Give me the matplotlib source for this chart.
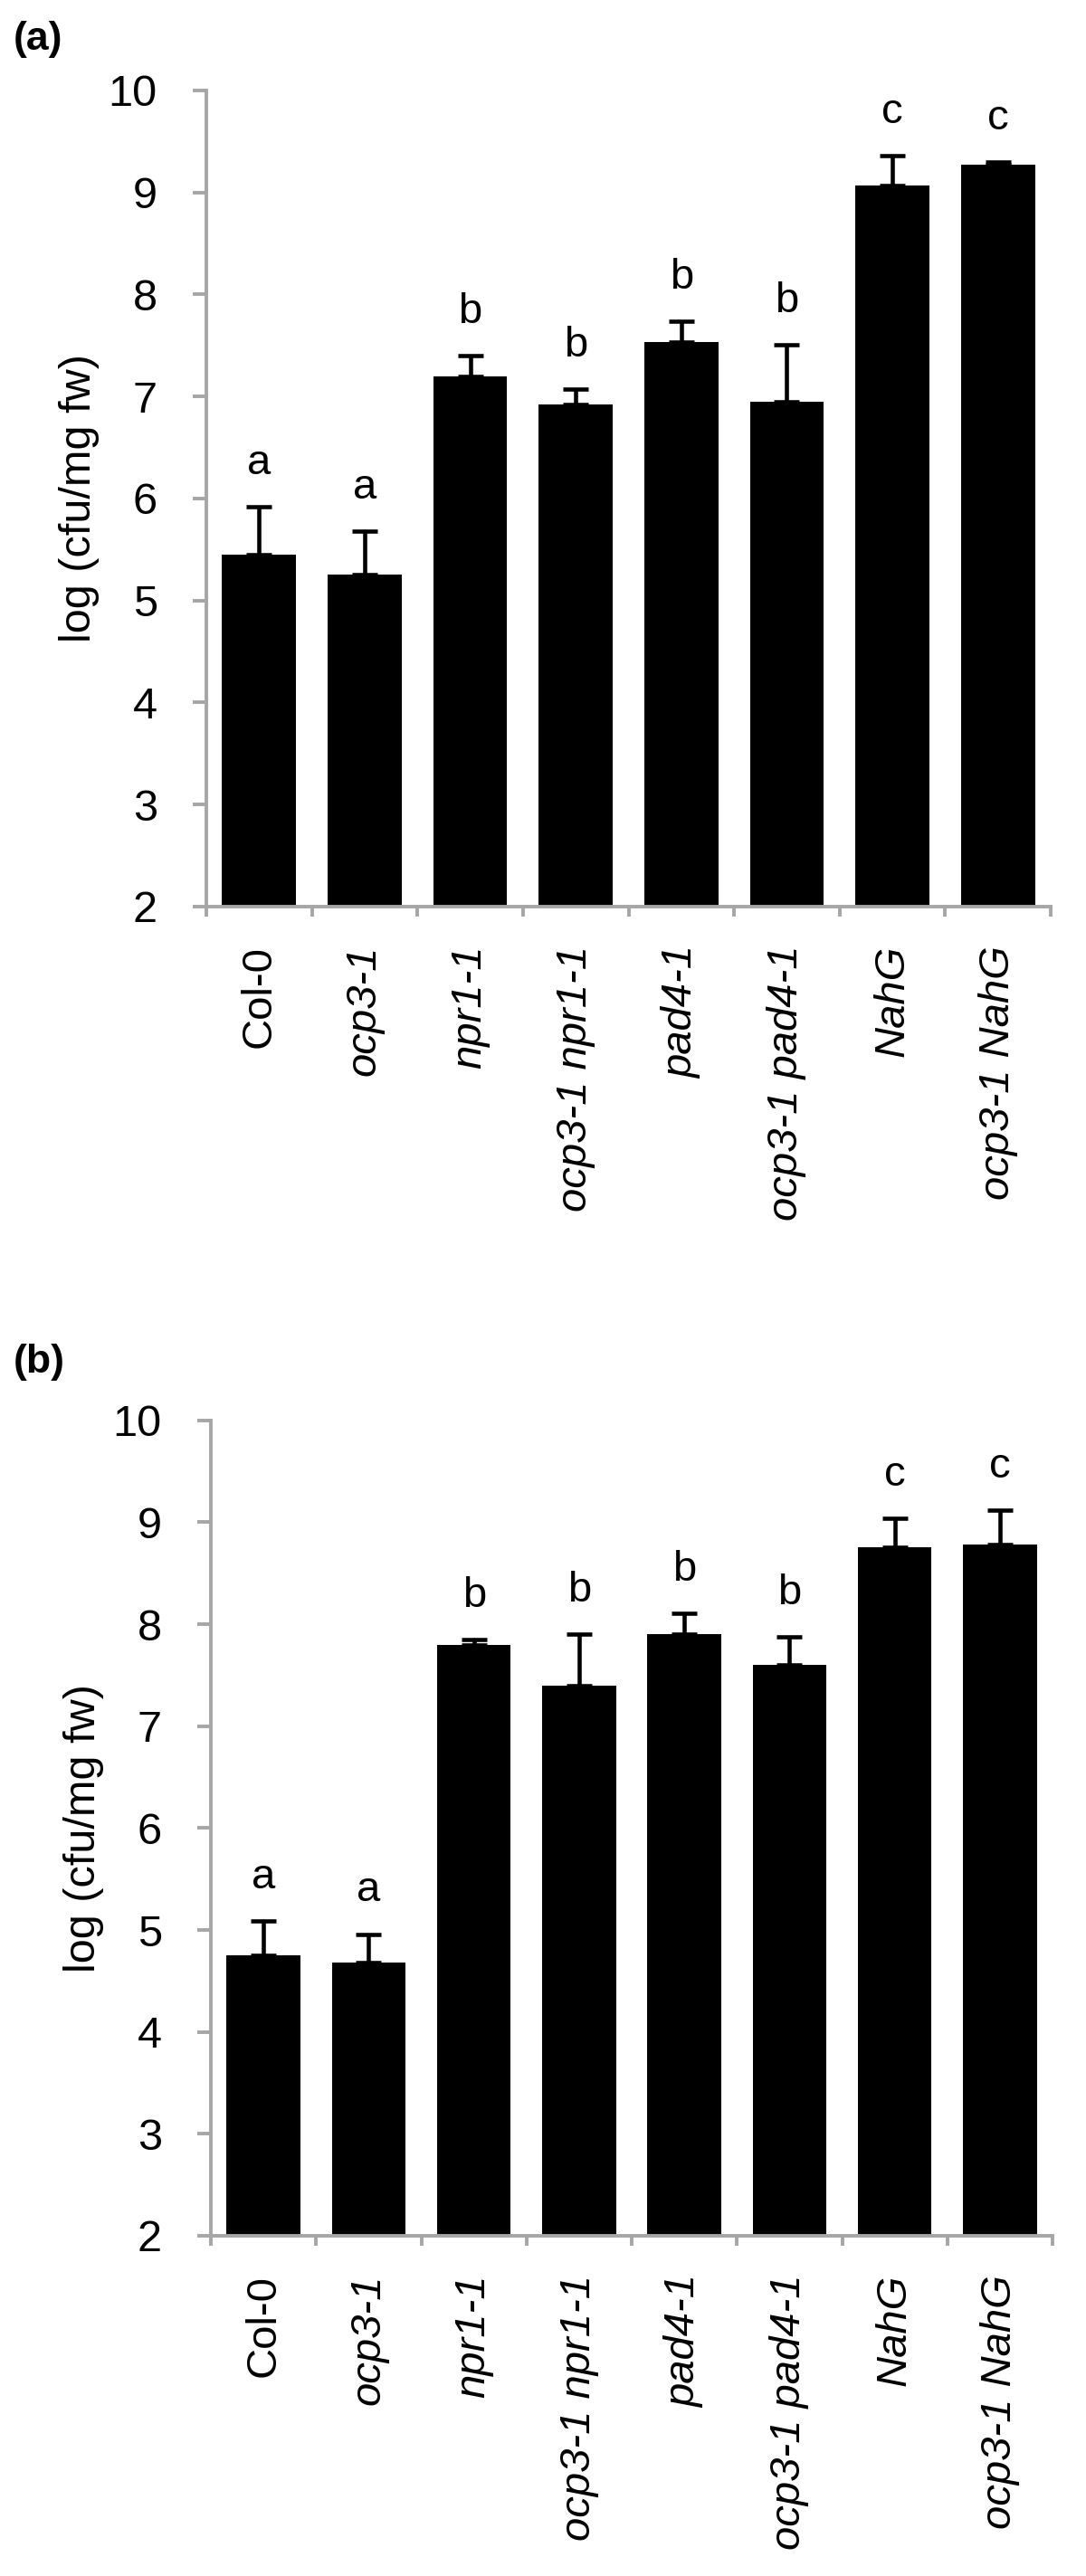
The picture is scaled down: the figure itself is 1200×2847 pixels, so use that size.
import numpy as np
import matplotlib.pyplot as plt

# genotypes on the x axis (all italic except Col-0)
genotypes = ['Col-0', 'ocp3-1', 'npr1-1', 'ocp3-1 npr1-1', 'pad4-1',
             'ocp3-1 pad4-1', 'NahG', 'ocp3-1 NahG']
italic = [False, True, True, True, True, True, True, True]

# panel (a)
means_a = [5.45, 5.25, 7.20, 6.92, 7.53, 6.95, 9.07, 9.27]
err_a = [0.47, 0.43, 0.20, 0.155, 0.21, 0.56, 0.29, 0.03]
letters_a = ['a', 'a', 'b', 'b', 'b', 'b', 'c', 'c']

# panel (b)
means_b = [4.75, 4.68, 7.80, 7.40, 7.905, 7.60, 8.755, 8.78]
err_b = [0.34, 0.28, 0.05, 0.50, 0.205, 0.28, 0.285, 0.34]
letters_b = ['a', 'a', 'b', 'b', 'b', 'b', 'c', 'c']

plt.rcParams['font.family'] = ['Liberation Sans', 'DejaVu Sans']

grey = '#a6a6a6'
fs = 34


def draw_panel(ax, means, errs, letters):
    x = np.arange(len(genotypes))
    ax.bar(x, means, width=0.7, bottom=0, color='black', zorder=2)
    ax.errorbar(x, means, yerr=[np.zeros(len(errs)), errs], fmt='none',
                ecolor='black', elinewidth=3.3, capsize=10, capthick=3.3, zorder=3)
    for xi, m, e, lab in zip(x, means, errs, letters):
        ax.annotate(lab, (xi, m + e), xytext=(0, 26), textcoords='offset points',
                    ha='center', va='baseline', fontsize=fs)

    ax.set_xlim(-0.5, len(genotypes) - 0.5)
    ax.set_ylim(2, 10)
    ax.set_yticks(range(2, 11))
    ax.tick_params(axis='y', labelsize=fs + 1, length=11, width=2.8, color=grey,
                   pad=28, direction='out')

    # category labels centred, tick marks between categories
    ax.set_xticks(x)
    ax.set_xticklabels(genotypes, rotation=90, fontsize=fs)
    for t, it in zip(ax.get_xticklabels(), italic):
        if it:
            t.set_fontstyle('italic')
    ax.tick_params(axis='x', which='major', length=0, pad=31)
    ax.set_xticks(np.arange(-0.5, len(genotypes)), minor=True)
    ax.tick_params(axis='x', which='minor', length=8, width=2.8, color=grey,
                   direction='out')

    for s in ['top', 'right']:
        ax.spines[s].set_visible(False)
    for s in ['left', 'bottom']:
        ax.spines[s].set_color(grey)
        ax.spines[s].set_linewidth(2.8)

    ax.set_ylabel('log (cfu/mg fw)', fontsize=fs + 1)
    ax.yaxis.set_label_coords(-0.127, 0.5)


fig = plt.figure(figsize=(12, 28.47), dpi=100)

ax1 = fig.add_axes([0.19, 0.6481, 0.7775, 0.3168])
draw_panel(ax1, means_a, err_a, letters_a)

ax2 = fig.add_axes([0.1942, 0.1321, 0.775, 0.3165])
draw_panel(ax2, means_b, err_b, letters_b)

fig.text(15 / 1200, 1 - 43 / 2847, '(a)', fontsize=32, fontweight='bold', va='center')
fig.text(15 / 1200, 1 - 1505 / 2847, '(b)', fontsize=32, fontweight='bold', va='center')

fig.savefig('out.png', dpi=100)
